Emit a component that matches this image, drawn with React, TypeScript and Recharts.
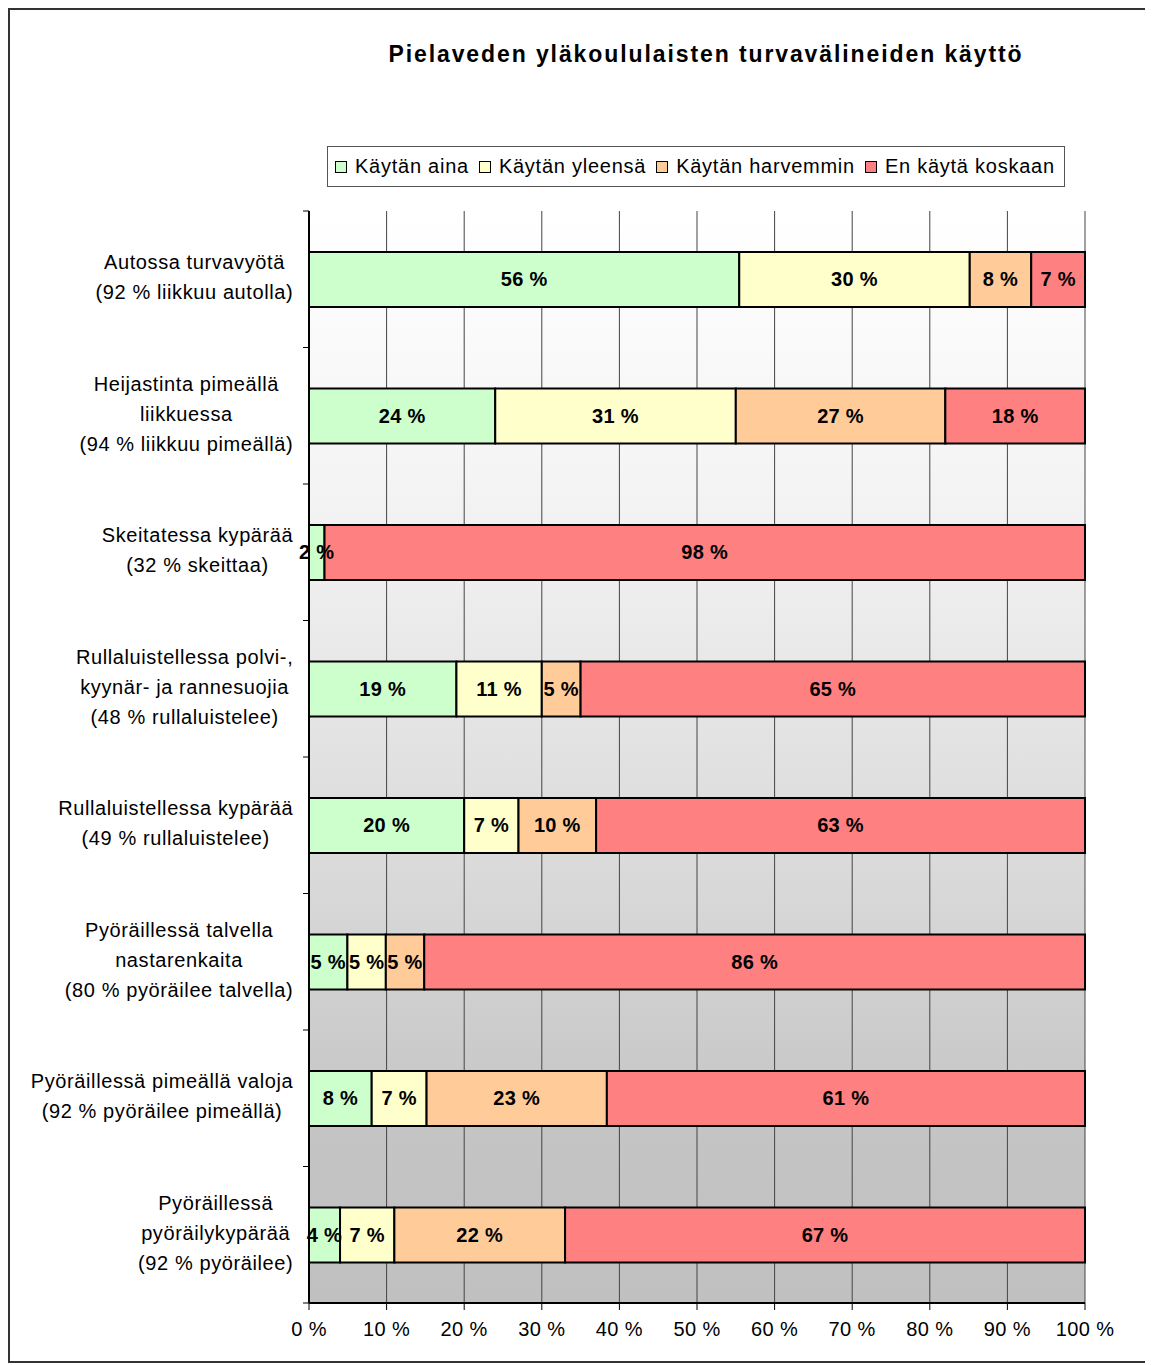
import React from "react";
import { BarChart, Bar, XAxis, YAxis, CartesianGrid, Legend, LabelList } from "recharts";

const categories = [
  "Autossa turvavyötä\n(92 % liikkuu autolla)",
  "Heijastinta pimeällä\nliikkuessa\n(94 % liikkuu pimeällä)",
  "Skeitatessa kypärää\n(32 % skeittaa)",
  "Rullaluistellessa polvi-,\nkyynär- ja rannesuojia\n(48 % rullaluistelee)",
  "Rullaluistellessa kypärää\n(49 % rullaluistelee)",
  "Pyöräillessä talvella\nnastarenkaita\n(80 % pyöräilee talvella)",
  "Pyöräillessä pimeällä valoja\n(92 % pyöräilee pimeällä)",
  "Pyöräillessä\npyöräilykypärää\n(92 % pyöräilee)",
];
const kaytanAina = [56, 24, 2, 19, 20, 5, 8, 4];
const kaytanYleensa = [30, 31, 0, 11, 7, 5, 7, 7];
const kaytanHarvemmin = [8, 27, 0, 5, 10, 5, 23, 22];
const enKayta = [7, 18, 98, 65, 63, 86, 61, 67];
const xTicks = [0, 0.1, 0.2, 0.3, 0.4, 0.5, 0.6, 0.7, 0.8, 0.9, 1];

const series = [
  { key: "aina", name: "Käytän aina", color: "#ccffcc", values: kaytanAina },
  { key: "yleensa", name: "Käytän yleensä", color: "#ffffcc", values: kaytanYleensa },
  { key: "harvemmin", name: "Käytän harvemmin", color: "#ffcc99", values: kaytanHarvemmin },
  { key: "koskaan", name: "En käytä koskaan", color: "#ff8080", values: enKayta },
];

const data = categories.map((c, i) => {
  const row: Record<string, string | number> = { cat: c };
  series.forEach((s) => (row[s.key] = s.values[i]));
  return row;
});

const FONT = "Arial, 'Liberation Sans', sans-serif";
const LS = 0.6;
const W = 1137;
const H = 1351;
const M = { top: 201, right: 62, bottom: 18, left: 0 };
const Y_W = 299;
const X_H = 40;
const BAND = (H - M.top - M.bottom - X_H) / categories.length;

let ctx: CanvasRenderingContext2D | null = null;
const measure = (s: string) => {
  if (!ctx) ctx = document.createElement("canvas").getContext("2d");
  if (!ctx) return s.length * 10;
  ctx.font = `20px ${FONT}`;
  return ctx.measureText(s).width + LS * (s.length - 1);
};

const CatTick = (props: any) => {
  const { x, y, payload, index } = props;
  const lines: string[] = String(payload.value).split("\n");
  const w = Math.max(...lines.map(measure));
  const cx = x - w / 2;
  const top = y - 2 - ((lines.length - 1) * 30) / 2;
  return (
    <g>
      <text textAnchor="middle" fontSize={20} fontFamily={FONT} fill="#000" letterSpacing={LS}>
        {lines.map((l, i) => (
          <tspan key={i} x={cx} y={top + i * 30} dy="0.35em">
            {l}
          </tspan>
        ))}
      </text>
      <line x1={x + 10} x2={x + 16} y1={y + BAND / 2} y2={y + BAND / 2} stroke="#000" />
      {index === 0 && <line x1={x + 10} x2={x + 16} y1={y - BAND / 2} y2={y - BAND / 2} stroke="#000" />}
    </g>
  );
};

const BarLabel = (props: any) => {
  const { x, y, width, height, value } = props;
  if (!value) return null;
  return (
    <text
      x={x + width / 2}
      y={y + height / 2}
      dy="0.35em"
      textAnchor="middle"
      fontSize={20}
      fontWeight="bold"
      fontFamily={FONT}
      letterSpacing={0.3}
      fill="#000"
    >
      {`${value} %`}
    </text>
  );
};

const LegendBox = () => (
  <div
    style={{
      boxSizing: "border-box",
      width: 738,
      height: 41,
      border: "1px solid #555",
      background: "#fff",
      display: "flex",
      alignItems: "center",
      paddingLeft: 7,
      fontFamily: FONT,
      fontSize: 20,
      letterSpacing: 0.75,
      color: "#000",
      whiteSpace: "nowrap",
    }}
  >
    {series.map((s) => (
      <span key={s.key} style={{ display: "inline-flex", alignItems: "center", marginRight: 10 }}>
        <span
          style={{
            display: "inline-block",
            width: 10,
            height: 10,
            border: "1px solid #000",
            background: s.color,
            marginRight: 8,
          }}
        />
        {s.name}
      </span>
    ))}
  </div>
);

export default function App() {
  return (
    <div
      style={{
        position: "relative",
        boxSizing: "border-box",
        width: 1141,
        height: 1355,
        border: "2px solid #333",
        background: "#fff",
      }}
    >
      <div
        style={{
          position: "absolute",
          left: 0,
          right: 0,
          top: 31,
          paddingLeft: 255,
          textAlign: "center",
          fontFamily: FONT,
          fontWeight: "bold",
          fontSize: 23,
          letterSpacing: 1.9,
          color: "#000",
        }}
      >
        Pielaveden yläkoululaisten turvavälineiden käyttö
      </div>
      <BarChart
        width={W}
        height={H}
        data={data}
        layout="vertical"
        stackOffset="expand"
        barCategoryGap="30%"
        margin={M}
      >
        <defs>
          <linearGradient id="bg" x1="0" y1="0" x2="0" y2="1">
            <stop offset="0" stopColor="#ffffff" />
            <stop offset="0.11" stopColor="#fafafa" />
            <stop offset="0.23" stopColor="#f5f5f5" />
            <stop offset="0.34" stopColor="#eeeeee" />
            <stop offset="0.48" stopColor="#e3e3e3" />
            <stop offset="0.6" stopColor="#dadada" />
            <stop offset="0.72" stopColor="#cfcfcf" />
            <stop offset="0.85" stopColor="#c4c4c4" />
            <stop offset="1" stopColor="#c0c0c0" />
          </linearGradient>
        </defs>
        <CartesianGrid horizontal={false} stroke="#444" fill="url(#bg)" fillOpacity={1} />
        <XAxis
          type="number"
          domain={[0, 1]}
          ticks={xTicks}
          tickFormatter={(v: number) => `${Math.round(v * 100)} %`}
          height={X_H}
          tickSize={7}
          tickMargin={12}
          stroke="#000"
          axisLine={{ stroke: "#000", strokeWidth: 2 }}
          tick={{ fontSize: 20, fontFamily: FONT, fill: "#000", letterSpacing: 0.4 }}
          interval={0}
        />
        <XAxis
          xAxisId="top"
          orientation="top"
          type="number"
          domain={[0, 1]}
          tick={false}
          tickLine={false}
          height={0}
          axisLine={{ stroke: "#888", strokeWidth: 2 }}
        />
        <YAxis
          type="category"
          dataKey="cat"
          width={Y_W}
          tickSize={0}
          tickLine={false}
          tickMargin={16}
          axisLine={{ stroke: "#000", strokeWidth: 2 }}
          tick={<CatTick />}
          interval={0}
        />
        <Legend
          layout="horizontal"
          verticalAlign="middle"
          align="center"
          content={<LegendBox />}
          wrapperStyle={{ top: 136, left: 317, width: 738, height: 41 }}
        />
        {series.map((s) => (
          <Bar
            key={s.key}
            dataKey={s.key}
            name={s.name}
            stackId="a"
            fill={s.color}
            stroke="#000"
            strokeWidth={2}
            isAnimationActive={false}
          >
            <LabelList dataKey={s.key} content={<BarLabel />} />
          </Bar>
        ))}
      </BarChart>
    </div>
  );
}
